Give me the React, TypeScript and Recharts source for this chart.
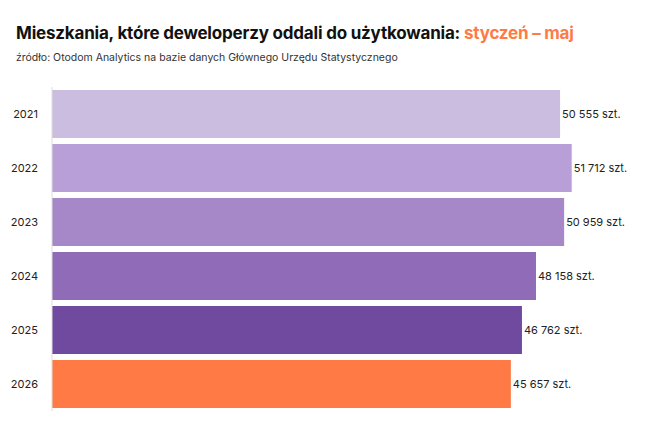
import { BarChart, Bar, XAxis, YAxis, Cell, LabelList } from 'recharts';

const years = ['2021', '2022', '2023', '2024', '2025', '2026'];
const flats = [50555, 51712, 50959, 48158, 46762, 45657];
const colors = ['#cbbde0', '#b89fd8', '#a688c8', '#8f6bb8', '#6f4a9e', '#ff7a45'];

const data = years.map((year, i) => ({ year, value: flats[i] }));

const fmt = (v: number) => `${String(v).replace(/\B(?=(\d{3})+(?!\d))/g, ' ')} szt.`;

const font = 'Inter, "Noto Sans", sans-serif';

export default function App() {
  return (
    <div style={{ position: 'absolute', left: 0, top: 0, width: 670, height: 433, background: '#fff', fontFamily: font }}>
      <div style={{ position: 'absolute', left: 16, top: 23, fontSize: 17, fontWeight: 700, color: '#111', letterSpacing: -0.2 }}>
        Mieszkania, które deweloperzy oddali do użytkowania: <span style={{ color: '#ff7a45' }}>styczeń – maj</span>
      </div>
      <div style={{ position: 'absolute', left: 16, top: 51, fontSize: 10.5, color: '#333' }}>
        źródło: Otodom Analytics na bazie danych Głównego Urzędu Statystycznego
      </div>
      <BarChart
        width={670}
        height={433}
        data={data}
        layout="vertical"
        margin={{ top: 87, right: 15, bottom: 22, left: 0 }}
        barCategoryGap={3}
      >
        <XAxis type="number" domain={[0, 60000]} hide />
        <YAxis
          type="category"
          dataKey="year"
          width={52}
          axisLine={{ stroke: '#dddddd' }}
          tickLine={false}
          tick={{ fill: '#222', fontSize: 11, fontFamily: font }}
          tickMargin={8}
        />
        <Bar dataKey="value" isAnimationActive={false}>
          {data.map((d, i) => (
            <Cell key={d.year} fill={colors[i]} />
          ))}
          <LabelList dataKey="value" position="right" offset={2} formatter={(v: number) => fmt(v)} style={{ fill: '#222', fontSize: 11, fontFamily: font }} />
        </Bar>
      </BarChart>
    </div>
  );
}
